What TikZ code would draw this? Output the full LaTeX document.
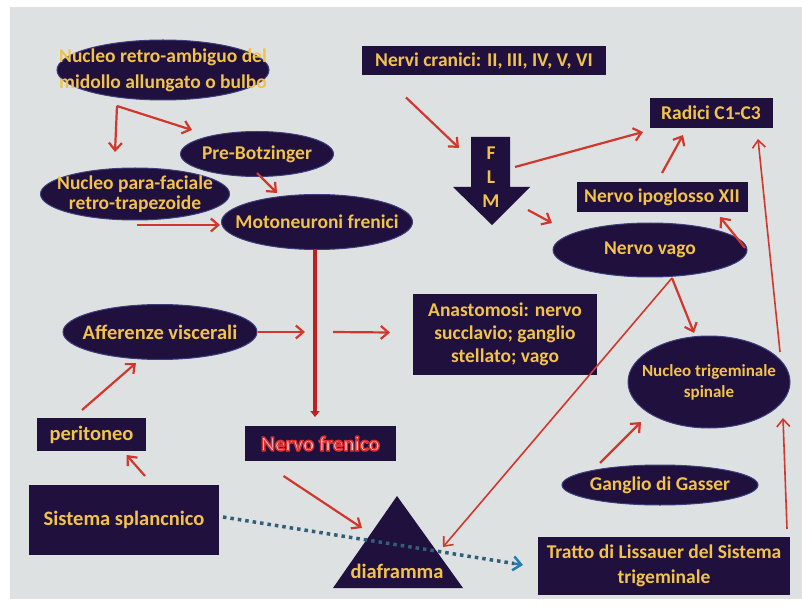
\documentclass[tikz,border=0pt]{standalone}
\usepackage{fontspec}
\setmainfont{Carlito}
\usetikzlibrary{shapes.geometric,arrows.meta,calc}
\definecolor{bgc}{RGB}{221,225,226}
\definecolor{dk}{RGB}{32,16,62}
\definecolor{rim}{RGB}{60,62,125}
\definecolor{yl}{RGB}{242,195,75}
\definecolor{rd}{RGB}{210,55,45}
\definecolor{rdd}{RGB}{195,30,30}
\definecolor{bl}{RGB}{50,95,120}
\definecolor{blh}{RGB}{40,125,175}
\definecolor{pk}{RGB}{250,228,232}
\newcommand\outlinetext[1]{\special{pdf:literal direct 2 Tr 1.5 w 0.85 0.2 0.2 RG}#1\special{pdf:literal direct 0 Tr}}
\begin{document}
\begin{tikzpicture}[x=1pt,y=-1pt,
  ell/.style={ellipse, fill=dk, draw=rim, line width=1pt, inner sep=0},
  box/.style={rectangle, fill=dk, inner sep=0, text=yl, align=center,
    font=\bfseries\fontsize{19.5}{22}\selectfont},
  txt/.style={text=yl, align=center, inner sep=0,
    font=\bfseries\fontsize{19.5}{22}\selectfont},
  arr/.style={draw=rd, line width=2.2pt, -{Straight Barb[length=7.5pt,width=13pt]}},
  thin arr/.style={draw=rd, line width=1.6pt, -{Straight Barb[length=7.5pt,width=13pt]}}
]
\useasboundingbox (0,0) rectangle (802,609);
\fill[white] (0,0) rectangle (802,609);
\fill[bgc] (10,7) rectangle (802,599);

% ellipses
\node[ell, minimum width=212, minimum height=60,
  label={[txt, font=\bfseries\fontsize{19.5}{26}\selectfont]center:Nucleo retro-ambiguo del\\midollo allungato o bulbo}] (nra) at (163,70) {};
\node[ell, minimum width=153, minimum height=45,
  label={[txt]center:Pre-Botzinger}] (pbz) at (257,154) {};
\node[ell, minimum width=189, minimum height=52,
  label={[txt, font=\bfseries\fontsize{19.5}{20}\selectfont]center:Nucleo para-faciale\\retro-trapezoide}] (npf) at (135,194) {};
\node[ell, minimum width=191, minimum height=55,
  label={[txt]center:Motoneuroni frenici}] (mot) at (317,222) {};
\node[ell, minimum width=194, minimum height=55,
  label={[txt, font=\bfseries\fontsize{20.5}{22}\selectfont]center:Afferenze viscerali}] (aff) at (160,332) {};
\node[ell, minimum width=194, minimum height=54,
  label={[txt]center:Nervo vago}] (vag) at (650,250) {};
\node[ell, minimum width=162, minimum height=92,
  label={[txt, font=\bfseries\fontsize{17}{21}\selectfont]center:Nucleo trigeminale\\spinale}] (ntr) at (709,382) {};
\node[ell, minimum width=196, minimum height=40,
  label={[txt]center:Ganglio di Gasser}] (gas) at (660,485) {};

% boxes
\node[box, minimum width=244, minimum height=29] (nc) at (484,60.5) {Nervi cranici: II, III, IV, V, VI};
\node[box, minimum width=123, minimum height=30] (rad) at (711,113) {Radici C1-C3};
\node[box, minimum width=171, minimum height=30] (ipo) at (662,197) {Nervo ipoglosso XII};
\node[box, minimum width=184, minimum height=81, font=\bfseries\fontsize{19.5}{23}\selectfont] (ana) at (505,334.5) {Anastomosi: nervo\\succlavio; ganglio\\stellato; vago};
\node[box, minimum width=109, minimum height=33, font=\bfseries\fontsize{20.5}{22}\selectfont] (per) at (91.5,434.5) {peritoneo};
\node[box, minimum width=190, minimum height=70, font=\bfseries\fontsize{20.5}{22}\selectfont] (spl) at (124,520) {Sistema splancnico};
\node[box, minimum width=151, minimum height=35, text=pk, font=\bfseries\fontsize{21}{22}\selectfont] (fre) at (320.5,443.5) {\outlinetext{Nervo frenico}};
\node[box, minimum width=252, minimum height=58, font=\bfseries\fontsize{19.5}{25}\selectfont] (lis) at (664,566) {Tratto di Lissauer del Sistema\\trigeminale};

% FLM block arrow
\fill[dk] (471,137) -- (510,137) -- (510,187) -- (530,187) -- (492,225) -- (453,187) -- (471,187) -- cycle;
\node[txt, font=\bfseries\fontsize{19.5}{24}\selectfont] (flm) at (491,177) {F\\L\\M};

% triangle
\coordinate (ta) at (397,496);
\coordinate (tl) at (333,588);
\coordinate (tr) at (463,588);
\fill[dk] (ta) -- (tr) -- (tl) -- cycle;
\node[txt, font=\bfseries\fontsize{20.5}{22}\selectfont] (dia) at (397,571) {diaframma};

% connectors
\coordinate (jn) at (317,332);
\draw[arr] ([shift={(-46,36)}]nra.center) -- ([shift={(-20,-42)}]npf.center);
\draw[arr] ([shift={(-46,36)}]nra.center) -- ([shift={(-65,-24)}]pbz.center);
\draw[arr] ([shift={(0,19)}]pbz.center) -- ([shift={(-40,-29)}]mot.center);
\draw[arr] ([shift={(2,31)}]npf.center) -- ([shift={(-97,3)}]mot.center);
\draw[draw=rdd, line width=4pt, -{Triangle[length=6pt,width=9pt]}] ([shift={(-2,28)}]mot.center) -- ([shift={(-5.5,-26.5)}]fre.center);
\draw[arr] ([shift={(98,0)}]aff.center) -- ([shift={(-12,0)}]jn);
\draw[arr] ([shift={(16,0)}]jn) -- ([shift={(-115,-2)}]ana.center);
\draw[arr] ([shift={(21,-44)}]spl.center) -- ([shift={(35,20.5)}]per.center);
\draw[arr] ([shift={(-9.5,-24.5)}]per.center) -- ([shift={(-24,31)}]aff.center);
\draw[arr] ([shift={(-37,32.5)}]fre.center) -- ([shift={(-35,-43)}]dia.center);
\draw[arr] ([shift={(-78,37)}]nc.center) -- ([shift={(-32,-29)}]flm.center);
\draw[arr] ([shift={(24,-10)}]flm.center) -- ([shift={(-68,19)}]rad.center);
\draw[arr] ([shift={(37,33)}]flm.center) -- ([shift={(-98,-27)}]vag.center);
\draw[arr] ([shift={(0,-24)}]ipo.center) -- ([shift={(-28,22)}]rad.center);
\draw[arr] ([shift={(95,-2)}]vag.center) -- ([shift={(58,20)}]ipo.center);
\draw[arr] ([shift={(22,28)}]vag.center) -- ([shift={(-15,-49)}]ntr.center);
\draw[thin arr] ([shift={(22,28)}]vag.center) -- ([shift={(46,-24)}]dia.center);
\draw[thin arr] ([shift={(71,-30)}]ntr.center) -- ([shift={(47,26)}]rad.center);
\draw[thin arr] ([shift={(123,-37)}]lis.center) -- ([shift={(74,36)}]ntr.center);
\draw[arr] ([shift={(-60,-22)}]gas.center) -- ([shift={(-68,40)}]ntr.center);

% dotted blue connector
\draw[draw=bl, line width=3.5pt, dash pattern=on 3.5pt off 4pt] ([shift={(99,-3)}]spl.center) -- ([shift={(-150,-2.5)}]lis.center);
\draw[draw=blh, line width=2.5pt, -{Straight Barb[length=8pt,width=14pt]}] ([shift={(-150,-2.5)}]lis.center) -- ([shift={(-141,-1)}]lis.center);
\end{tikzpicture}
\end{document}
